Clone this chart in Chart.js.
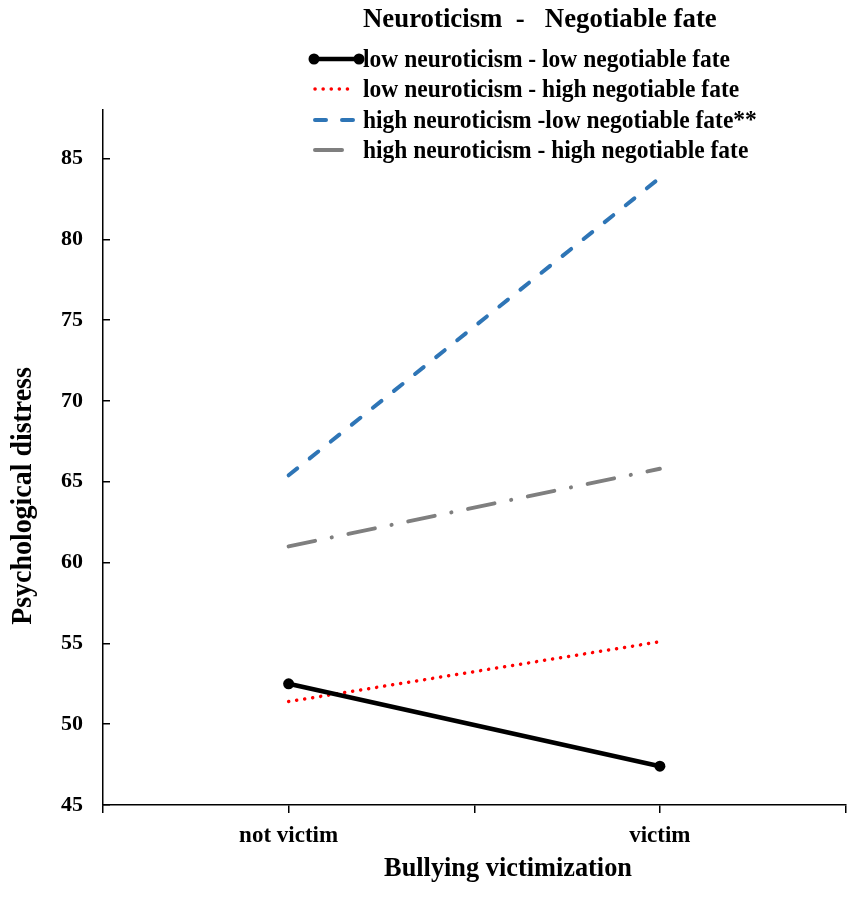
<!DOCTYPE html>
<html><head><meta charset="utf-8">
<script src="https://cdn.jsdelivr.net/npm/chart.js@4/dist/chart.umd.min.js"></script>
<style>html,body{margin:0;padding:0;background:#fff;overflow:hidden}#wrap{width:851px;height:897px;position:relative}</style>
</head><body><div id="wrap"><canvas id="c"></canvas></div>
<script>
const categories = ['not victim', 'victim'];
const categoryPos = [1, 3];
const xTickValues = [0, 1, 2, 3, 4];
const yTickValues = [45, 50, 55, 60, 65, 70, 75, 80, 85];
const lowNeuroLowFate = [52.5, 47.4];
const lowNeuroHighFate = [51.4, 55.1];
const highNeuroLowFate = [65.4, 83.8];
const highNeuroHighFate = [61.0, 65.8];
const seriesNames = [
  'low neuroticism - low negotiable fate',
  'low neuroticism - high negotiable fate',
  'high neuroticism -low negotiable fate**',
  'high neuroticism - high negotiable fate'
];
const legendTitle = 'Neuroticism  -   Negotiable fate';
const xTitle = 'Bullying victimization';
const yTitle = 'Psychological distress';

const FONT = "'Liberation Serif', 'Times New Roman', serif";
const pts = arr => categoryPos.map((x, i) => ({x: x, y: arr[i]}));

function stretchedText(ctx, text, x, y, size, sx, align) {
  ctx.save();
  ctx.font = 'bold ' + size + 'px ' + FONT;
  ctx.textAlign = align;
  ctx.translate(x, y);
  ctx.scale(sx, 1);
  ctx.fillText(text, 0, 0);
  ctx.restore();
}

const overlay = {
  id: 'overlay',
  afterDraw(chart) {
    const ctx = chart.ctx;
    ctx.save();
    ctx.fillStyle = '#000';
    ctx.textBaseline = 'alphabetic';
    stretchedText(ctx, legendTitle, 363, 27, 26.8, 1, 'left');
    const baselines = [67, 97, 128, 158];
    const sampleLen = [45, 42, 42, 32];
    chart.data.datasets.forEach((ds, i) => {
      const yc = baselines[i] - 8;
      const x0 = 315, x1 = x0 + sampleLen[i] - 2;
      ctx.save();
      ctx.strokeStyle = ds.borderColor;
      ctx.lineWidth = ds.borderWidth;
      ctx.lineCap = ds.borderCapStyle || 'butt';
      ctx.setLineDash(ds.borderDash || []);
      ctx.beginPath(); ctx.moveTo(x0, yc); ctx.lineTo(x1, yc); ctx.stroke();
      ctx.setLineDash([]);
      if (ds.pointRadius > 0) {
        ctx.fillStyle = ds.pointBackgroundColor;
        [x0 - 1, x1 + 1].forEach(px => { ctx.beginPath(); ctx.arc(px, yc, ds.pointRadius, 0, Math.PI * 2); ctx.fill(); });
      }
      ctx.restore();
      stretchedText(ctx, seriesNames[i], 363, baselines[i], 25, 0.94, 'left');
    });
    stretchedText(ctx, xTitle, 508, 876, 28, 0.94, 'center');
    ctx.save();
    ctx.translate(31, 496);
    ctx.rotate(-Math.PI / 2);
    stretchedText(ctx, yTitle, 0, 0, 30, 0.93, 'center');
    ctx.restore();
    ctx.restore();
  }
};

new Chart(document.getElementById('c'), {
  type: 'line',
  data: {
    datasets: [
      {label: seriesNames[0], data: pts(lowNeuroLowFate), borderColor: '#000', backgroundColor: '#000',
       borderWidth: 4.5, pointRadius: 5.5, pointBackgroundColor: '#000', pointBorderWidth: 0, borderCapStyle: 'butt'},
      {label: seriesNames[1], data: pts(lowNeuroHighFate), borderColor: '#FF0000', borderWidth: 3.5,
       borderDash: [0.1, 8], borderCapStyle: 'round', pointRadius: 0},
      {label: seriesNames[2], data: pts(highNeuroLowFate), borderColor: '#2E75B6', borderWidth: 4,
       borderDash: [11, 16], borderCapStyle: 'round', pointRadius: 0},
      {label: seriesNames[3], data: pts(highNeuroHighFate), borderColor: '#7F7F7F', borderWidth: 4,
       borderDash: [27, 17, 0.1, 17], borderCapStyle: 'round', pointRadius: 0}
    ]
  },
  options: {
    responsive: true, maintainAspectRatio: false, animation: false,
    devicePixelRatio: 1,
    layout: {padding: {top: 110, right: 4, left: 0, bottom: 0}},
    plugins: {legend: {display: false}, tooltip: {enabled: false}},
    scales: {
      x: {
        type: 'linear', min: 0, max: 4,
        afterBuildTicks: s => { s.ticks = xTickValues.map(v => ({value: v})); },
        afterFit: s => { s.height = 92; s.paddingLeft = 0; s.paddingRight = 0; },
        grid: {drawOnChartArea: false, drawTicks: true, tickLength: 8, color: '#000', lineWidth: 1.5},
        border: {display: true, color: '#000', width: 1.5},
        ticks: {autoSkip: false, maxRotation: 0, padding: 9, color: '#000',
          font: {family: FONT, size: 23, weight: 'bold'},
          callback: v => { const i = categoryPos.indexOf(v); return i >= 0 ? categories[i] : ''; }}
      },
      y: {
        min: 45, max: 88,
        afterBuildTicks: s => { s.ticks = yTickValues.map(v => ({value: v})); },
        afterFit: s => { s.width = 103; s.paddingTop = 0; s.paddingBottom = 0; },
        grid: {drawOnChartArea: false, drawTicks: true, tickLength: -7, color: '#000', lineWidth: 1.5},
        border: {display: true, color: '#000', width: 1.5},
        ticks: {padding: 27, color: '#000', font: {family: FONT, size: 22, weight: 'bold'}}
      }
    }
  },
  plugins: [overlay]
});
</script></body></html>
